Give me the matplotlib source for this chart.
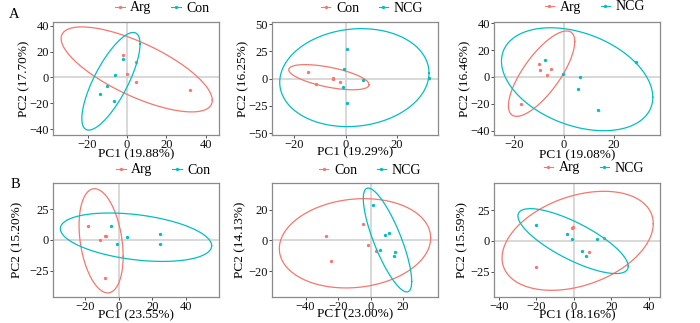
import numpy as np
import matplotlib
matplotlib.use("Agg")
from matplotlib import pyplot as plt
from matplotlib.lines import Line2D

plt.rcParams['font.family'] = ['Liberation Serif', 'DejaVu Serif']

RED = "#F8766D"
CYAN = "#00BFC4"

# ---- data ----
# panel A1: Arg vs Con
a1_groups = ["Arg", "Con"]
a1_g1_x = [-2, 4.5, 0, 4.5, 32]
a1_g1_y = [17.5, 12, 3, -3.5, -9.5]
a1_g2_x = [-2, -6, -10, -13.5, -6.5]
a1_g2_y = [14, 2, -6.5, -12.5, -18]
# ellipses: xmin, xmax, ymin, ymax, y at rightmost point
a1_ell1 = [-33.4, 43.2, -26.7, 39.2, -17.7]
a1_ell2 = [-22.9, 6.6, -40.8, 34.9, 25.9]
a1_xlabel = "PC1 (19.88%)"
a1_ylabel = "PC2 (17.70%)"
a1_xticks = [-20, 0, 20, 40]
a1_yticks = [-40, -20, 0, 20, 40]

# panel A2: Con vs NCG
a2_groups = ["Con", "NCG"]
a2_g1_x = [-14.7, -11.5, -5.0, -4.8, -2.2]
a2_g1_y = [5.8, -5.2, 0.9, 0.0, -3.4]
a2_g2_x = [0.3, -0.6, 6.6, -1.2, 0.5, 32.4]
a2_g2_y = [26.8, 8.9, -1.5, -7.7, -21.9, 0.9]
a2_ell1 = [-22.2, 9.1, -10.2, 12.9, -5.5]
a2_ell2 = [-25.7, 32.4, -44.0, 45.9, 5.2]
a2_xlabel = "PC1 (19.29%)"
a2_ylabel = "PC2 (16.25%)"
a2_xticks = [-20, 0, 20]
a2_yticks = [-50, -25, 0, 25, 50]

# panel A3: Arg vs NCG
a3_groups = ["Arg", "NCG"]
a3_g1_x = [-10.1, -9.5, -5.2, -6.9, -17.3]
a3_g1_y = [10.0, 4.9, 5.6, 1.2, -20.1]
a3_g2_x = [-7.4, -0.3, 6.7, 5.8, 13.7, 29.2]
a3_g2_y = [13.0, 2.4, 0.2, -8.8, -24.7, 11.5]
a3_ell1 = [-22.3, 4.4, -29.4, 34.3, 26.4]
a3_ell2 = [-25.1, 35.8, -40.1, 36.7, -15.2]
a3_xlabel = "PC1 (19.08%)"
a3_ylabel = "PC2 (16.46%)"
a3_xticks = [-20, 0, 20]
a3_yticks = [-40, -20, 0, 20, 40]

# panel B1: Arg vs Con
b1_groups = ["Arg", "Con"]
b1_g1_x = [-18.4, -11.4, -8.4, -7.6, -8.0]
b1_g1_y = [11.0, 0.2, 3.2, 3.2, -30.4]
b1_g2_x = [-4.4, -0.8, 5.0, 24.8, 24.8]
b1_g2_y = [11.5, -3.5, 2.7, 4.8, -3.0]
b1_ell1 = [-23.8, 2.6, -42.7, 41.4, -13.2]
b1_ell2 = [-35.0, 55.6, -17.3, 21.8, -4.6]
b1_xlabel = "PC1 (23.55%)"
b1_ylabel = "PC2 (15.20%)"
b1_xticks = [-20, 0, 20, 40]
b1_yticks = [-25, 0, 25]

# panel B2: Con vs NCG
b2_groups = ["Con", "NCG"]
b2_g1_x = [-27.6, -24.5, -4.8, -1.4, 3.3]
b2_g1_y = [3.1, -13.2, 10.9, -3.2, -6.9]
b2_g2_x = [1.6, 8.8, 11.5, 6.0, 15.0, 14.6]
b2_g2_y = [22.8, 3.3, 4.6, -6.1, -7.4, -10.2]
b2_ell1 = [-56.2, 37.0, -31.0, 27.2, 1.6]
b2_ell2 = [-4.5, 25.3, -33.6, 34.1, -26.7]
b2_xlabel = "PC1 (23.00%)"
b2_ylabel = "PC2 (14.13%)"
b2_xticks = [-40, -20, 0, 20]
b2_yticks = [-20, 0, 20]

# panel B3: Arg vs NCG
b3_groups = ["Arg", "NCG"]
b3_g1_x = [-1.1, -0.4, 16.3, 7.9, -20.0]
b3_g1_y = [10.2, 11.6, 2.4, -8.9, -21.0]
b3_g2_x = [-20.0, -3.9, -0.9, 12.2, 4.5, 6.3]
b3_g2_y = [13.2, 5.6, 1.9, 1.6, -7.8, -11.8]
b3_ell1 = [-38.4, 42.5, -39.8, 40.1, 14.0]
b3_ell2 = [-29.9, 29.1, -26.3, 26.1, -20.4]
b3_xlabel = "PC1 (18.16%)"
b3_ylabel = "PC2 (15.59%)"
b3_xticks = [-40, -20, 0, 20, 40]
b3_yticks = [-25, 0, 25]

W, H = 700, 323


def ellipse_xy(e):
    # ellipse from its bounding box and the y value at its rightmost point
    xmin, xmax, ymin, ymax, yr = e
    cx, rx = (xmin + xmax) / 2, (xmax - xmin) / 2
    cy, ry = (ymin + ymax) / 2, (ymax - ymin) / 2
    d = np.arccos(np.clip((yr - cy) / ry, -1, 1))
    t = np.linspace(0, 2 * np.pi, 300)
    return cx + rx * np.cos(t), cy + ry * np.cos(t - d)


def panel(fig, rect, groups, g1, g2, e1, e2, xlabel, ylabel, xticks, yticks,
          xlim, ylim, ylab_x, xlab_y, leg_xy):
    l, t, r, b = rect
    ax = fig.add_axes([l / W, 1 - b / H, (r - l) / W, (b - t) / H])
    ax.axhline(0, color="#d6d6d6", lw=1.3, zorder=0)
    ax.axvline(0, color="#d6d6d6", lw=1.3, zorder=0)
    for (x, y), e, c in ((g1, e1, RED), (g2, e2, CYAN)):
        ex, ey = ellipse_xy(e)
        ax.plot(ex, ey, color=c, lw=0.9)
        ax.plot(x, y, "o", color=c, ms=2.4, mew=0)
    ax.set_xlim(xlim)
    ax.set_ylim(ylim)
    ax.set_xticks(xticks)
    ax.set_yticks(yticks)
    ax.tick_params(labelsize=9, length=2, width=0.6, pad=1,
                   color="#333333", labelcolor="#111111")
    for s in ax.spines.values():
        s.set_color("#8a8a8a")
        s.set_linewidth(0.9)
    ax.set_xlabel(xlabel, fontsize=9.5, va="center")
    ax.set_ylabel(ylabel, fontsize=9.5, va="center")
    ax.xaxis.set_label_coords(0.5, xlab_y)
    ax.yaxis.set_label_coords(ylab_x, 0.5)
    handles = [Line2D([], [], color=RED, marker="o", ms=2.4, mew=0, lw=0.8),
               Line2D([], [], color=CYAN, marker="o", ms=2.4, mew=0, lw=0.8)]
    ax.legend(handles, groups, loc="center", ncol=2, frameon=False,
              bbox_to_anchor=(leg_xy[0] / W, 1 - leg_xy[1] / H),
              bbox_transform=fig.transFigure, fontsize=10,
              handlelength=0.7, handletextpad=0.4, columnspacing=1.4,
              borderpad=0, borderaxespad=0)
    return ax


fig = plt.figure(figsize=(7, 3.23), dpi=100)

panel(fig, (53, 22, 219, 135), a1_groups, (a1_g1_x, a1_g1_y), (a1_g2_x, a1_g2_y),
      a1_ell1, a1_ell2, a1_xlabel, a1_ylabel, a1_xticks, a1_yticks,
      (-37.5, 46.6), (-44.6, 43), -0.17, -0.17, (162, 8))
panel(fig, (272, 22, 438, 135), a2_groups, (a2_g1_x, a2_g1_y), (a2_g2_x, a2_g2_y),
      a2_ell1, a2_ell2, a2_xlabel, a2_ylabel, a2_xticks, a2_yticks,
      (-28.7, 35.9), (-51.7, 52), -0.175, -0.15, (372, 8))
panel(fig, (494, 22, 660, 135), a3_groups, (a3_g1_x, a3_g1_y), (a3_g2_x, a3_g2_y),
      a3_ell1, a3_ell2, a3_xlabel, a3_ylabel, a3_xticks, a3_yticks,
      (-28.1, 38.7), (-43.3, 41), -0.175, -0.177, (595, 7))
panel(fig, (53, 183, 219, 297), b1_groups, (b1_g1_x, b1_g1_y), (b1_g2_x, b1_g2_y),
      b1_ell1, b1_ell2, b1_xlabel, b1_ylabel, b1_xticks, b1_yticks,
      (-39.4, 60), (-46, 46), -0.217, -0.158, (163, 170))
panel(fig, (272, 183, 438, 297), b2_groups, (b2_g1_x, b2_g1_y), (b2_g2_x, b2_g2_y),
      b2_ell1, b2_ell2, b2_xlabel, b2_ylabel, b2_xticks, b2_yticks,
      (-60.7, 41.5), (-36.9, 37.4), -0.193, -0.149, (370, 170))
panel(fig, (494, 183, 660, 297), b3_groups, (b3_g1_x, b3_g1_y), (b3_g2_x, b3_g2_y),
      b3_ell1, b3_ell2, b3_xlabel, b3_ylabel, b3_xticks, b3_yticks,
      (-42.7, 46.1), (-45.2, 46.8), -0.19, -0.158, (594, 168))

fig.text(14 / W, 1 - 14 / H, "A", fontsize=10.5, ha="center", va="center")
fig.text(15 / W, 1 - 185 / H, "B", fontsize=10.5, ha="center", va="center")

fig.savefig("out.png", dpi=100)
